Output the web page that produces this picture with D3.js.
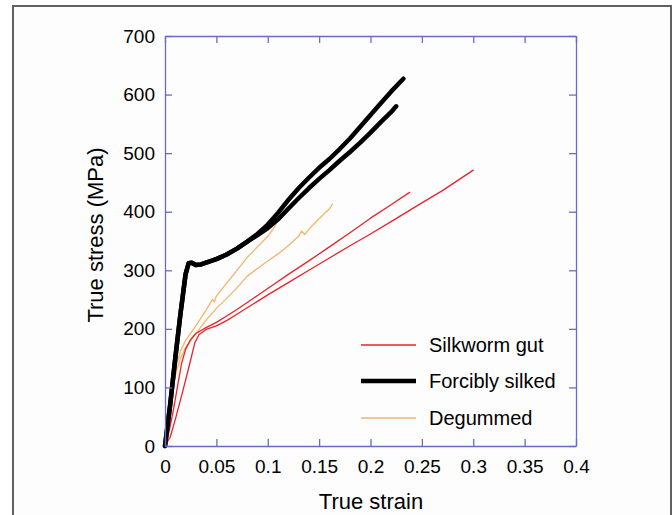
<!DOCTYPE html>
<html><head><meta charset="utf-8">
<script src="https://cdn.jsdelivr.net/npm/d3@7"></script>
<style>html,body{margin:0;padding:0;background:#fff;}svg{display:block;}</style>
</head><body>
<svg id="c" width="672" height="515"></svg>
<script>
// ---- data (strain, stress MPa) ----
const xTicks = [0, 0.05, 0.1, 0.15, 0.2, 0.25, 0.3, 0.35, 0.4];
const xTickLabels = ["0", "0.05", "0.1", "0.15", "0.2", "0.25", "0.3", "0.35", "0.4"];
const yTicks = [0, 100, 200, 300, 400, 500, 600, 700];
const yTickLabels = ["0", "100", "200", "300", "400", "500", "600", "700"];
const legendLabels = ["Silkworm gut", "Forcibly silked", "Degummed"];

const gut1 = [[0,0],[0.004,25],[0.008,60],[0.0127,107],[0.016,140],[0.02,165],[0.025,182],[0.03,192],[0.04,202],[0.05,211],[0.06,222],[0.07,233],[0.08,245],[0.09,257],[0.1,269],[0.105,275],[0.12,293],[0.14,316],[0.16,340],[0.18,364],[0.2,389],[0.22,412],[0.238,433]];
const gut2 = [[0,0],[0.005,15],[0.01,45],[0.0175,95],[0.024,140],[0.029,176],[0.033,190],[0.04,199],[0.05,205],[0.06,214],[0.07,225],[0.08,236],[0.09,247],[0.1,258],[0.12,279],[0.14,300],[0.16,321],[0.18,342],[0.2,362],[0.22,383],[0.25,415],[0.27,436],[0.3,471]];
const silked1 = [[0,0],[0.005,70],[0.01,150],[0.015,225],[0.02,293],[0.023,312],[0.026,313],[0.03,309],[0.035,310],[0.04,313],[0.05,319],[0.06,327],[0.07,337],[0.08,349],[0.09,362],[0.1,378],[0.11,398],[0.12,420],[0.13,440],[0.14,458],[0.15,475],[0.16,490],[0.17,507],[0.18,525],[0.19,545],[0.2,565],[0.21,585],[0.22,605],[0.232,627]];
const silked2 = [[0,0],[0.005,70],[0.01,150],[0.015,225],[0.02,293],[0.023,312],[0.026,313],[0.03,309],[0.035,310],[0.04,313],[0.05,319],[0.06,327],[0.07,337],[0.08,349],[0.09,360],[0.1,372],[0.11,387],[0.12,405],[0.13,423],[0.14,440],[0.15,456],[0.16,471],[0.17,487],[0.18,502],[0.19,518],[0.2,535],[0.21,553],[0.22,570],[0.225,580]];
const degum1 = [[0,0],[0.005,75],[0.01,130],[0.015,162],[0.02,180],[0.03,205],[0.04,232],[0.046,250],[0.048,246],[0.05,256],[0.06,278],[0.07,300],[0.08,322],[0.09,340],[0.1,358],[0.105,370],[0.11,385],[0.12,403],[0.13,421],[0.14,438],[0.15,454],[0.16,469],[0.173,488]];
const degum2 = [[0,0],[0.005,70],[0.01,120],[0.015,150],[0.02,168],[0.03,192],[0.04,215],[0.05,235],[0.06,252],[0.07,270],[0.08,290],[0.09,303],[0.1,316],[0.11,328],[0.12,342],[0.13,358],[0.133,367],[0.136,361],[0.14,370],[0.15,388],[0.16,405],[0.163,413]];

// ---- layout ----
const svg = d3.select("#c");
const L = 165, R = 576, T = 36, B = 446;
const x = d3.scaleLinear().domain([0, 0.4]).range([L, R]);
const y = d3.scaleLinear().domain([0, 700]).range([B, T]);
const axisCol = "#6a6ac8";
const font = "Arial, 'Liberation Sans', Helvetica, sans-serif";

// frame
svg.append("rect").attr("x", 0).attr("y", 0).attr("width", 672).attr("height", 515).attr("fill", "#fff");
svg.append("rect").attr("x", 13).attr("y", 6).attr("width", 658).attr("height", 530)
  .attr("fill", "#fdfdfd").attr("stroke", "#606060").attr("stroke-width", 2);

const line = d3.line().x(d => x(d[0])).y(d => y(d[1]));

const curves = [
  {d: degum1, c: "#f1b56c", w: 1.3},
  {d: degum2, c: "#f1b56c", w: 1.3},
  {d: gut1, c: "#e8232b", w: 1.3},
  {d: gut2, c: "#e8232b", w: 1.3},
  {d: silked2, c: "#000", w: 4.5},
  {d: silked1, c: "#000", w: 4.5}
];
svg.append("g").selectAll("path").data(curves).join("path")
  .attr("d", d => line(d.d)).attr("fill", "none")
  .attr("stroke", d => d.c).attr("stroke-width", d => d.w)
  .attr("stroke-linejoin", "round").attr("stroke-linecap", "round");

// axes (all four sides, ticks inward)
const tl = 7;
const gB = svg.append("g").attr("transform", `translate(0,${B})`)
  .call(d3.axisBottom(x).tickValues(xTicks).tickFormat((d,i) => xTickLabels[i]).tickSizeInner(-tl).tickSizeOuter(0).tickPadding(14));
const gT = svg.append("g").attr("transform", `translate(0,${T})`)
  .call(d3.axisTop(x).tickValues(xTicks).tickFormat("").tickSizeInner(-tl).tickSizeOuter(0));
const gL = svg.append("g").attr("transform", `translate(${L},0)`)
  .call(d3.axisLeft(y).tickValues(yTicks).tickFormat((d,i) => yTickLabels[i]).tickSizeInner(-tl).tickSizeOuter(0).tickPadding(10));
const gR = svg.append("g").attr("transform", `translate(${R},0)`)
  .call(d3.axisRight(y).tickValues(yTicks).tickFormat("").tickSizeInner(-tl).tickSizeOuter(0));
[gB, gT, gL, gR].forEach(g => {
  g.select(".domain").attr("stroke", axisCol).attr("stroke-width", 1.3);
  g.selectAll(".tick line").attr("stroke", axisCol).attr("stroke-width", 1.3);
  g.selectAll(".tick text").attr("fill", "#000").attr("font-family", font).attr("font-size", 19);
});

// axis titles
svg.append("text").attr("x", 371).attr("y", 509).attr("text-anchor", "middle")
  .attr("font-family", font).attr("font-size", 22).attr("fill", "#000").text("True strain");
svg.append("text").attr("transform", `translate(103,${(T+B)/2 - 6}) rotate(-90)`).attr("text-anchor", "middle")
  .attr("font-family", font).attr("font-size", 22).attr("fill", "#000").text("True stress (MPa)");

// legend
const leg = [
  {c: "#e8232b", w: 1.3, yy: 345},
  {c: "#000", w: 4.5, yy: 381},
  {c: "#f1b56c", w: 1.3, yy: 418}
];
const lg = svg.append("g");
leg.forEach((e, i) => {
  lg.append("line").attr("x1", 361).attr("x2", 416).attr("y1", e.yy).attr("y2", e.yy)
    .attr("stroke", e.c).attr("stroke-width", e.w);
  lg.append("text").attr("x", 429).attr("y", e.yy + 7).attr("font-family", font)
    .attr("font-size", 20).attr("fill", "#000").text(legendLabels[i]);
});
</script>
</body></html>
